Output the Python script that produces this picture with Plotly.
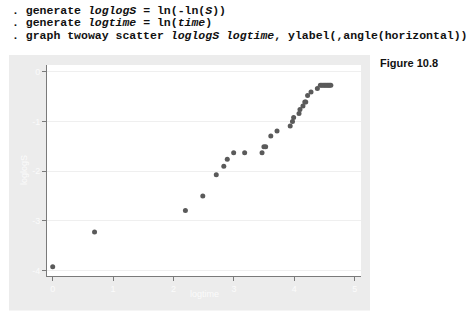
import plotly.graph_objects as go

# Data
logtime = [0.0, 0.693, 2.197, 2.485, 2.708, 2.833, 2.890, 2.996, 3.178, 3.466,
           3.497, 3.526, 3.611, 3.714, 3.932, 3.970, 3.989, 4.078, 4.094, 4.143,
           4.174, 4.190, 4.220, 4.277, 4.382, 4.431, 4.454, 4.477, 4.500, 4.522,
           4.543, 4.564, 4.585, 4.605]
loglogS = [-3.92, -3.22, -2.79, -2.50, -2.07, -1.90, -1.76, -1.63, -1.63, -1.63,
           -1.51, -1.51, -1.29, -1.19, -1.09, -1.00, -0.92, -0.84, -0.76, -0.69,
           -0.61, -0.61, -0.48, -0.41, -0.34, -0.27, -0.27, -0.27, -0.27, -0.27,
           -0.27, -0.27, -0.27, -0.27]
x_ticks = [0, 1, 2, 3, 4, 5]
y_ticks = [0, -1, -2, -3, -4]
code_lines = [
    "<b>. generate <i>loglogS</i> = ln(-ln(<i>S</i>))</b>",
    "<b>. generate <i>logtime</i> = ln(<i>time</i>)</b>",
    "<b>. graph twoway scatter <i>loglogS logtime</i>, ylabel(,angle(horizontal))</b>",
]

W, H = 469, 319
L, R, T, B = 47, 361, 65, 276  # plot area in pixels
PW, PH = R - L, B - T

def px(x):
    return (x - L) / PW

def py(y):
    return (B - y) / PH

GRAY = "#ececec"
TXT = "#fbfbfb"

fig = go.Figure()
fig.add_trace(go.Scatter(
    x=logtime, y=loglogS, mode="markers",
    marker=dict(size=5, color="#5a5a5a", line=dict(width=0)),
    hoverinfo="skip", showlegend=False,
))

shapes = [
    dict(type="rect", xref="paper", yref="paper", x0=px(9), x1=px(370),
         y0=py(310.5), y1=py(55), fillcolor=GRAY, line=dict(width=0), layer="below"),
    dict(type="rect", xref="paper", yref="paper", x0=0, x1=1, y0=0, y1=1,
         fillcolor="white", line=dict(width=0), layer="below"),
]

annotations = []
for i, t in enumerate(code_lines):
    annotations.append(dict(
        text=t, xref="paper", yref="paper", x=px(10), y=py(10 + 12.7 * i),
        xanchor="left", yanchor="middle", showarrow=False,
        font=dict(family="Liberation Mono", size=11.5, color="#111111"),
    ))
annotations.append(dict(
    text="<b>Figure 10.8</b>", xref="paper", yref="paper", x=px(378), y=py(63),
    xanchor="left", yanchor="middle", showarrow=False,
    font=dict(family="Liberation Sans", size=11, color="#111111"),
))
annotations.append(dict(
    text="logtime", xref="paper", yref="paper", x=px(204), y=py(294),
    xanchor="center", yanchor="middle", showarrow=False,
    font=dict(family="Liberation Sans", size=9, color=TXT),
))
annotations.append(dict(
    text="loglogS", xref="paper", yref="paper", x=px(24), y=py(170),
    xanchor="center", yanchor="middle", showarrow=False, textangle=-90,
    font=dict(family="Liberation Sans", size=9, color=TXT),
))

fig.update_layout(
    width=W, height=H,
    margin=dict(l=L, r=W - R, t=T, b=H - B, pad=0),
    paper_bgcolor="white", plot_bgcolor="white",
    shapes=shapes, annotations=annotations,
    font=dict(family="Liberation Sans"),
)
fig.update_xaxes(
    range=[-5.7 / 60.4, 5 + 6.3 / 60.4], tickvals=x_ticks,
    ticktext=[str(v) for v in x_ticks],
    showgrid=False, zeroline=False, showline=True, linecolor="#7a7a7a", linewidth=1,
    ticks="outside", ticklen=4, tickcolor="#7a7a7a",
    tickfont=dict(size=9, color=TXT, family="Liberation Sans"),
)
fig.update_yaxes(
    range=[-(276 - 71.7) / 49.75, (71.7 - 65) / 49.75], tickvals=y_ticks,
    ticktext=[str(v) for v in y_ticks],
    showgrid=True, gridcolor="#efefef", gridwidth=1, zeroline=False,
    showline=True, linecolor="#7a7a7a", linewidth=1,
    ticks="outside", ticklen=4, tickcolor="#7a7a7a",
    tickfont=dict(size=9, color=TXT, family="Liberation Sans"),
)

fig.write_html("out.html")
